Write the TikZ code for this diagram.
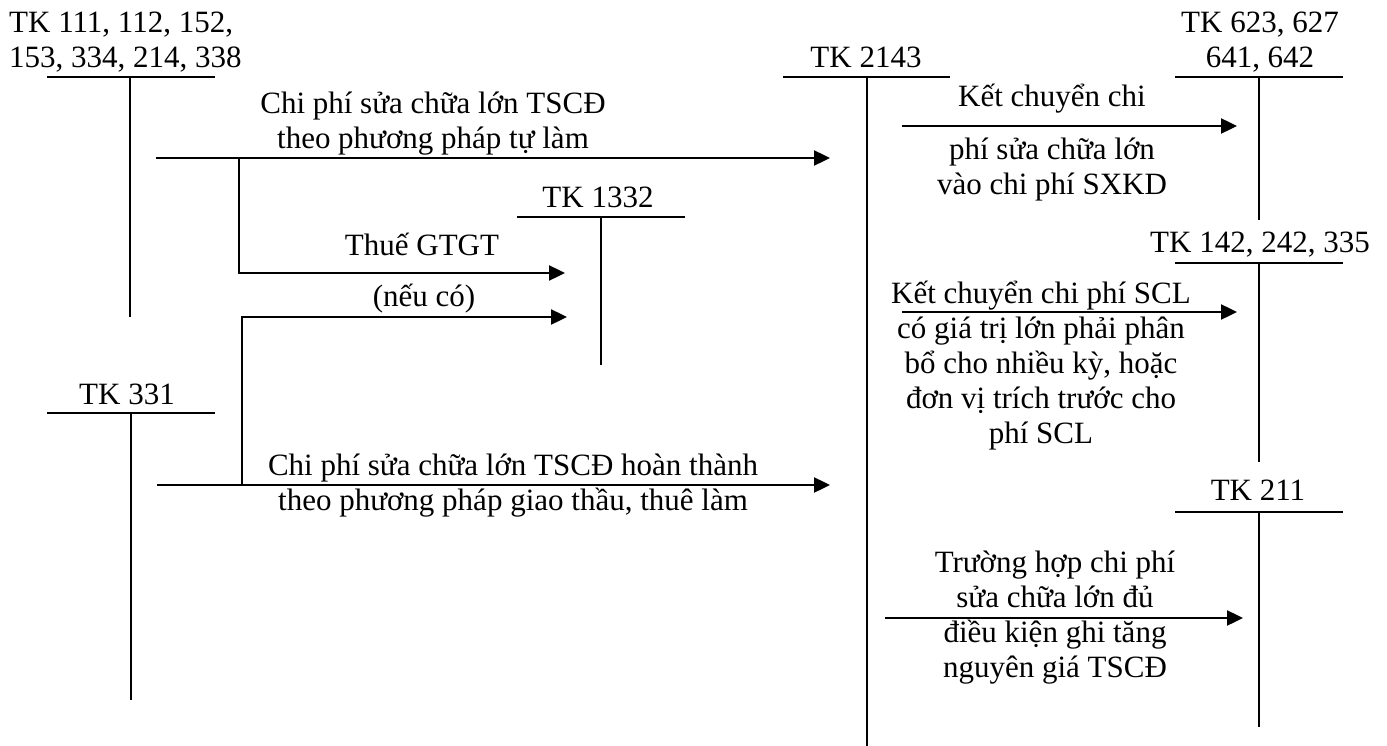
\documentclass[tikz,border=0pt]{standalone}
\usepackage{fontspec}
\setmainfont{Liberation Serif}
\usetikzlibrary{arrows.meta}
\begin{document}
\begin{tikzpicture}[x=1pt,y=-1pt,
  lbl/.style={inner sep=0pt, align=center, font=\fontsize{31}{35}\selectfont, anchor=base},
  tline/.style={line width=1.6pt},
  flow/.style={line width=2.4pt, -{Triangle[length=16pt,width=15pt]}},
]
\useasboundingbox (0,0) rectangle (1387,746);

% ---------- T accounts ----------
% TK 111... (anchor base = last line baseline)
\node[lbl, align=left, anchor=base west] (h111) at (9,68) {TK 111, 112, 152,\\153, 334, 214, 338};
\coordinate (t111L) at (47,77);  \coordinate (t111R) at (215,77);
\coordinate (t111T) at (130,77); \coordinate (t111B) at (130,317);
\draw[tline] (t111L) -- (t111R);
\draw[tline] (t111T) -- (t111B);

% TK 2143
\node[lbl] (h2143) at (866,68) {TK 2143};
\coordinate (t2143L) at (783,77);  \coordinate (t2143R) at (950,77);
\coordinate (t2143T) at (867,77);  \coordinate (t2143B) at (867,746);
\draw[tline] (t2143L) -- (t2143R);
\draw[tline] (t2143T) -- (t2143B);

% TK 623...
\node[lbl] (h623) at (1260,68) {TK 623, 627\\641, 642};
\coordinate (t623L) at (1175,77);  \coordinate (t623R) at (1343,77);
\coordinate (t623T) at (1259,77);  \coordinate (t623B) at (1259,220);
\draw[tline] (t623L) -- (t623R);
\draw[tline] (t623T) -- (t623B);

% TK 1332
\node[lbl] (h1332) at (598,208) {TK 1332};
\coordinate (t1332L) at (517,217);  \coordinate (t1332R) at (685,217);
\coordinate (t1332T) at (601,217);  \coordinate (t1332B) at (601,365);
\draw[tline] (t1332L) -- (t1332R);
\draw[tline] (t1332T) -- (t1332B);

% TK 331
\node[lbl] (h331) at (127,404) {TK 331};
\coordinate (t331L) at (47,413);  \coordinate (t331R) at (215,413);
\coordinate (t331T) at (131,413); \coordinate (t331B) at (131,700);
\draw[tline] (t331L) -- (t331R);
\draw[tline] (t331T) -- (t331B);

% TK 142...
\node[lbl] (h142) at (1260,253) {TK 142, 242, 335};
\coordinate (t142L) at (1175,263);  \coordinate (t142R) at (1343,263);
\coordinate (t142T) at (1259,263);  \coordinate (t142B) at (1259,462);
\draw[tline] (t142L) -- (t142R);
\draw[tline] (t142T) -- (t142B);

% TK 211
\node[lbl] (h211) at (1258,500) {TK 211};
\coordinate (t211L) at (1175,512);  \coordinate (t211R) at (1343,512);
\coordinate (t211T) at (1259,512);  \coordinate (t211B) at (1259,727);
\draw[tline] (t211L) -- (t211R);
\draw[tline] (t211T) -- (t211B);

% ---------- flows ----------
% self-made repair
\coordinate (f1s) at (156,158); \coordinate (f1e) at (830,158);
\coordinate (f1b) at (239,158); \coordinate (f1v) at (565,273);
\draw[flow] (f1s) -- (f1e);
\draw[flow] (f1b) |- (f1v);
\node[lbl] (l1) at (433,149) {Chi phí sửa chữa lớn TSCĐ\\theo phương pháp tự làm};
\node[lbl] (l1v) at (422,255) {Thuế GTGT};
\node[lbl] (l2v) at (424,306) {(nếu có)};

% contracted repair
\coordinate (f2s) at (157,485); \coordinate (f2e) at (830,485);
\coordinate (f2b) at (242,485); \coordinate (f2v) at (567,317);
\draw[flow] (f2s) -- (f2e);
\draw[flow] (f2b) |- (f2v);
\node[lbl] (l2) at (513,510) {Chi phí sửa chữa lớn TSCĐ hoàn thành\\theo phương pháp giao thầu, thuê làm};

% to production costs
\coordinate (f3s) at (902,126); \coordinate (f3e) at (1237,126);
\draw[flow] (f3s) -- (f3e);
\node[lbl] (l3a) at (1052,107) {Kết chuyển chi};
\node[lbl] (l3b) at (1052,195) {phí sửa chữa lớn\\vào chi phí SXKD};

% to prepaid / accrued
\coordinate (f4s) at (902,312); \coordinate (f4e) at (1237,312);
\draw[flow] (f4s) -- (f4e);
\node[lbl] (l4) at (1041,443) {Kết chuyển chi phí SCL\\có giá trị lớn phải phân\\bổ cho nhiều kỳ, hoặc\\đơn vị trích trước cho\\phí SCL};

% to fixed assets
\coordinate (f5s) at (885,618); \coordinate (f5e) at (1243,618);
\draw[flow] (f5s) -- (f5e);
\node[lbl] (l5) at (1055,677) {Trường hợp chi phí\\sửa chữa lớn đủ\\điều kiện ghi tăng\\nguyên giá TSCĐ};
\end{tikzpicture}
\end{document}
